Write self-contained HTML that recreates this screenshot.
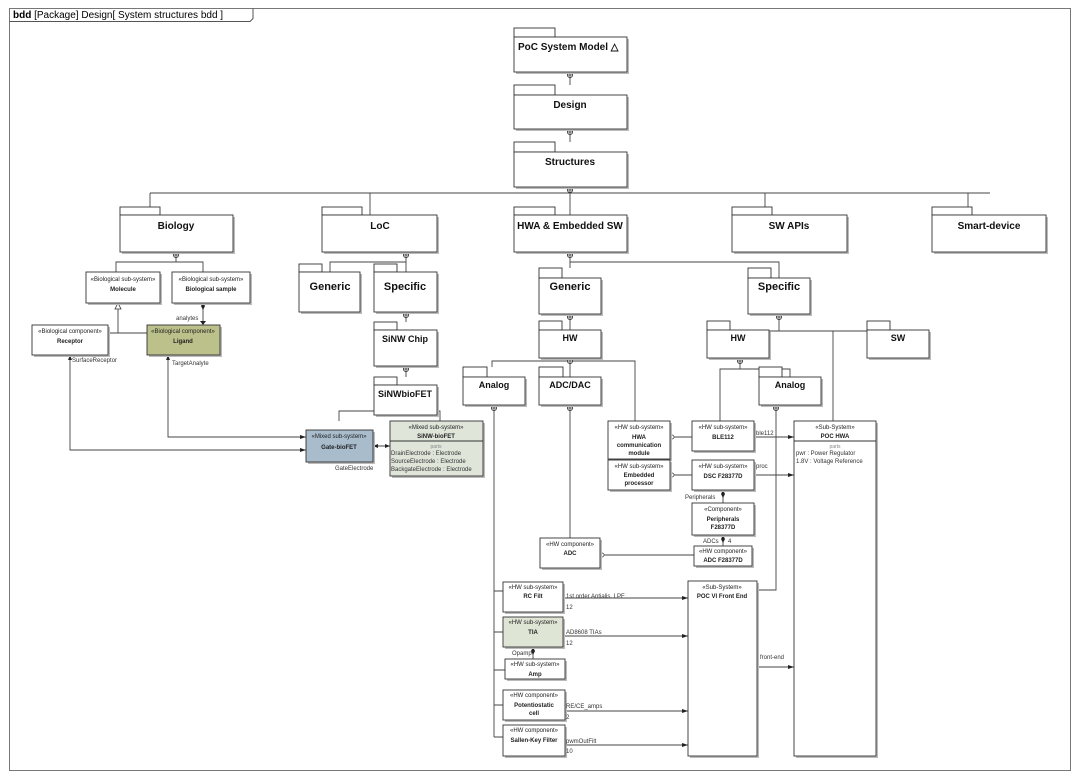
<!DOCTYPE html>
<html><head><meta charset="utf-8"><style>
html,body{margin:0;padding:0;background:#fff;}
svg{display:block;font-family:"Liberation Sans",sans-serif;}
.b{font-weight:bold;}
</style></head><body>
<svg width="1080" height="781" viewBox="0 0 1080 781" xmlns="http://www.w3.org/2000/svg">
<defs>
<g id="cp"><circle cx="0" cy="0" r="2.6" fill="#fff" stroke="#333" stroke-width="0.8"/><path d="M-2.6 0H2.6M0 -2.6V2.6" stroke="#333" stroke-width="0.8"/></g>
</defs>
<rect width="1080" height="781" fill="#fff"/>
<!-- frame -->
<rect x="9.5" y="8.5" width="1061" height="762" fill="none" stroke="#777" stroke-width="1"/>
<path d="M9.5 21.5H250l3-3V8.5" fill="none" stroke="#555"/>
<text x="13" y="18" font-size="10"><tspan class="b">bdd</tspan> [Package] Design[ System structures bdd ]</text>

<g fill="none" stroke="#444" stroke-width="0.9">
<!-- tree lines -->
<path d="M570 72V85M570 129V142M570 187V193M150 193H990M150 193V207M370 193V215M570 193V215M765 193V207M968 193V207"/>
<path d="M176 252V262H116V272M176 262H203V272"/>
<path d="M406 252V262H330V272M406 262V272"/>
<path d="M406 312V322M406 366V377M406 415V411H339V421M406 411H440V421"/>
<path d="M570 252V262H570V268M570 262H779V278"/>
<path d="M570 314V330M570 358V361H492V367M570 361V377M570 361H635V421"/>
<path d="M779 314V331H769M779 331H929M833 331V421"/>
<path d="M740 358V369H720V421M740 369H790V377"/>
<!-- Biology -->
<path d="M203 302V325M107 333H147M118 333V306"/>
<path d="M70 355V450H306M168 355V437H306"/>
<!-- Gate / SiNW -->
<path d="M373 446H390"/>
<!-- HWA left -->
<path d="M494 405V737M494 591H503M494 632H503M494 670H505M494 705H503M494 737H503"/>
<path d="M570 405V538"/>
<path d="M670 437H692M670 475H692M600 555H694"/>
<path d="M723 490V503M723 535V546"/>
<path d="M776 405V590H757"/>
<path d="M754 437H794M754 475H794"/>
<path d="M563 598H688M563 636H688M565 711H688M565 745H688M757 667H794"/>
<path d="M533 647V659"/>
</g>
<!-- composition markers -->
<use href="#cp" x="570" y="75"/><use href="#cp" x="570" y="132"/><use href="#cp" x="570" y="190"/>
<use href="#cp" x="176" y="255"/><use href="#cp" x="406" y="255"/><use href="#cp" x="570" y="255"/>
<use href="#cp" x="406" y="315"/><use href="#cp" x="406" y="369"/><use href="#cp" x="406" y="407"/>
<use href="#cp" x="570" y="317"/><use href="#cp" x="570" y="361"/><use href="#cp" x="779" y="317"/>
<use href="#cp" x="740" y="361"/><use href="#cp" x="494" y="408"/><use href="#cp" x="570" y="408"/><use href="#cp" x="776" y="408"/>
<!-- markers small -->
<g fill="#222">
<path d="M118 303l-3 6h6z" fill="#fff" stroke="#333" stroke-width="0.8"/>
<path d="M203 302l-2 4 2 4 2-4z"/><path d="M200 321l3 4 3-4z"/>
<path d="M306 437l-6-2v4zM306 450l-6-2v4zM390 446l-5-2v4zM373 446l5-2v4z"/>
<path d="M70 355l-2 5h4zM168 355l-2 5h4z"/>
<circle cx="672" cy="437" r="2" fill="#fff" stroke="#333" stroke-width="0.7"/>
<circle cx="672" cy="475" r="2" fill="#fff" stroke="#333" stroke-width="0.7"/>
<circle cx="602" cy="555" r="2" fill="#fff" stroke="#333" stroke-width="0.7"/>
<path d="M794 437l-6-2v4zM794 475l-6-2v4zM688 598l-6-2v4zM688 636l-6-2v4zM688 711l-6-2v4zM688 745l-6-2v4zM794 667l-6-2v4z"/>
<path d="M723 490l-2 4 2 4 2-4zM723 535l-2 4 2 4 2-4zM533 647l-2 4 2 4 2-4z"/>
</g>
<!-- packages -->
<g fill="#fff" stroke="#333" stroke-width="0.9">
<g fill="#bbb" stroke="none">
<rect x="516" y="39" width="113" height="35"/><rect x="516" y="97" width="113" height="34"/><rect x="516" y="154" width="113" height="35"/>
<rect x="122" y="217" width="113" height="37"/><rect x="324" y="217" width="115" height="37"/><rect x="516" y="217" width="113" height="37"/><rect x="734" y="217" width="115" height="37"/><rect x="934" y="217" width="114" height="37"/>
<rect x="301" y="274" width="61" height="40"/><rect x="376" y="274" width="63" height="40"/><rect x="376" y="332" width="63" height="36"/><rect x="376" y="387" width="63" height="30"/>
<rect x="541" y="280" width="62" height="36"/><rect x="750" y="280" width="62" height="36"/><rect x="541" y="332" width="62" height="28"/><rect x="709" y="332" width="62" height="28"/><rect x="869" y="332" width="62" height="28"/>
<rect x="465" y="379" width="62" height="28"/><rect x="541" y="379" width="62" height="28"/><rect x="761" y="379" width="62" height="28"/>
</g>
<rect x="514" y="28" width="41" height="9"/><rect x="514" y="37" width="113" height="35"/>
<rect x="514" y="85" width="41" height="10"/><rect x="514" y="95" width="113" height="34"/>
<rect x="514" y="142" width="41" height="10"/><rect x="514" y="152" width="113" height="35"/>
<rect x="120" y="207" width="40" height="8"/><rect x="120" y="215" width="113" height="37"/>
<rect x="322" y="207" width="40" height="8"/><rect x="322" y="215" width="115" height="37"/>
<rect x="514" y="207" width="41" height="8"/><rect x="514" y="215" width="113" height="37"/>
<rect x="732" y="207" width="40" height="8"/><rect x="732" y="215" width="115" height="37"/>
<rect x="932" y="207" width="40" height="8"/><rect x="932" y="215" width="114" height="37"/>
<rect x="299" y="264" width="23" height="8"/><rect x="299" y="272" width="61" height="40"/>
<rect x="374" y="264" width="23" height="8"/><rect x="374" y="272" width="63" height="40"/>
<rect x="374" y="322" width="23" height="8"/><rect x="374" y="330" width="63" height="36"/>
<rect x="374" y="377" width="23" height="8"/><rect x="374" y="385" width="63" height="30"/>
<rect x="539" y="268" width="23" height="10"/><rect x="539" y="278" width="62" height="36"/>
<rect x="748" y="268" width="23" height="10"/><rect x="748" y="278" width="62" height="36"/>
<rect x="539" y="321" width="23" height="9"/><rect x="539" y="330" width="62" height="28"/>
<rect x="707" y="321" width="23" height="9"/><rect x="707" y="330" width="62" height="28"/>
<rect x="867" y="321" width="23" height="9"/><rect x="867" y="330" width="62" height="28"/>
<rect x="463" y="367" width="24" height="10"/><rect x="463" y="377" width="62" height="28"/>
<rect x="539" y="367" width="24" height="10"/><rect x="539" y="377" width="62" height="28"/>
<rect x="759" y="367" width="23" height="10"/><rect x="759" y="377" width="62" height="28"/>
</g>
<g font-size="10" class="b" text-anchor="middle" fill="#111" font-weight="bold">
<text x="560" y="50" text-anchor="start" x0="0"></text>
<text x="518" y="50" text-anchor="start">PoC System Model  △</text>
<text x="570" y="108">Design</text><text x="570" y="165">Structures</text>
<text x="176" y="229">Biology</text><text x="380" y="229">LoC</text><text x="570" y="229">HWA &amp; Embedded SW</text>
<text x="789" y="229">SW APIs</text><text x="989" y="229">Smart-device</text>
<text x="330" y="290" font-size="11">Generic</text><text x="405" y="290" font-size="11">Specific</text>
<text x="405" y="342" font-size="9">SiNW Chip</text><text x="405" y="397" font-size="9">SiNWbioFET</text>
<text x="570" y="290" font-size="11">Generic</text><text x="779" y="290" font-size="11">Specific</text>
<text x="570" y="341" font-size="9">HW</text><text x="738" y="341" font-size="9">HW</text><text x="898" y="341" font-size="9">SW</text>
<text x="494" y="388" font-size="9">Analog</text><text x="570" y="388" font-size="9">ADC/DAC</text><text x="790" y="388" font-size="9">Analog</text>
</g>
<!-- blocks -->
<g stroke="#333" stroke-width="0.9">
<g fill="#bbb" stroke="none">
<rect x="88" y="274" width="74" height="31"/><rect x="174" y="274" width="78" height="31"/><rect x="34" y="327" width="76" height="30"/><rect x="149" y="327" width="73" height="30"/>
<rect x="308" y="432" width="67" height="32"/><rect x="392" y="423" width="93" height="55"/>
<rect x="610" y="423" width="62" height="38"/><rect x="610" y="462" width="62" height="30"/><rect x="694" y="423" width="62" height="30"/><rect x="694" y="462" width="62" height="30"/><rect x="694" y="505" width="62" height="32"/><rect x="696" y="548" width="58" height="20"/><rect x="542" y="540" width="60" height="30"/>
<rect x="796" y="423" width="82" height="335"/><rect x="690" y="583" width="69" height="175"/>
<rect x="505" y="584" width="60" height="30"/><rect x="505" y="619" width="60" height="30"/><rect x="507" y="661" width="60" height="20"/><rect x="505" y="692" width="62" height="30"/><rect x="505" y="727" width="62" height="31"/>
</g>
<rect x="86" y="272" width="74" height="31" fill="#fff"/><rect x="172" y="272" width="78" height="31" fill="#fff"/>
<rect x="32" y="325" width="76" height="30" fill="#fff"/><rect x="147" y="325" width="73" height="30" fill="#bcc08a"/>
<rect x="306" y="430" width="67" height="32" fill="#a8bccc"/><rect x="390" y="421" width="93" height="55" fill="#e0e5da"/>
<path d="M390 441H483M794 441H876" fill="none"/>
<rect x="608" y="421" width="62" height="38" fill="#fff"/><rect x="608" y="460" width="62" height="30" fill="#fff"/>
<rect x="692" y="421" width="62" height="30" fill="#fff"/><rect x="692" y="460" width="62" height="30" fill="#fff"/>
<rect x="692" y="503" width="62" height="32" fill="#fff"/><rect x="694" y="546" width="58" height="20" fill="#fff"/>
<rect x="540" y="538" width="60" height="30" fill="#fff"/>
<rect x="794" y="421" width="82" height="335" fill="#fff"/><path d="M794 441H876"/>
<rect x="688" y="581" width="69" height="175" fill="#fff"/>
<rect x="503" y="582" width="60" height="30" fill="#fff"/><rect x="503" y="617" width="60" height="30" fill="#dfe5d5"/>
<rect x="505" y="659" width="60" height="20" fill="#fff"/><rect x="503" y="690" width="62" height="30" fill="#fff"/><rect x="503" y="725" width="62" height="31" fill="#fff"/>
</g>
<g font-size="6" text-anchor="middle" fill="#222">
<text x="123" y="281">«Biological sub-system»</text><text x="123" y="291" font-weight="bold">Molecule</text>
<text x="211" y="281">«Biological sub-system»</text><text x="211" y="291" font-weight="bold">Biological sample</text>
<text x="70" y="333">«Biological component»</text><text x="70" y="343" font-weight="bold">Receptor</text>
<text x="183" y="333">«Biological component»</text><text x="183" y="343" font-weight="bold">Ligand</text>
<text x="339" y="438">«Mixed sub-system»</text><text x="339" y="449" font-weight="bold">Gate-bioFET</text>
<text x="436" y="429">«Mixed sub-system»</text><text x="436" y="438" font-weight="bold">SiNW-bioFET</text>
<text x="436" y="448" font-size="5" fill="#888">parts</text>
<text x="639" y="429">«HW sub-system»</text><text x="639" y="439" font-weight="bold">HWA</text><text x="639" y="447" font-weight="bold">communication</text><text x="639" y="455" font-weight="bold">module</text>
<text x="639" y="468">«HW sub-system»</text><text x="639" y="477" font-weight="bold">Embedded</text><text x="639" y="485" font-weight="bold">processor</text>
<text x="723" y="429">«HW sub-system»</text><text x="723" y="439" font-weight="bold">BLE112</text>
<text x="723" y="468">«HW sub-system»</text><text x="723" y="478" font-weight="bold">DSC F28377D</text>
<text x="723" y="511">«Component»</text><text x="723" y="521" font-weight="bold">Peripherals</text><text x="723" y="529" font-weight="bold">F28377D</text>
<text x="723" y="553">«HW component»</text><text x="723" y="562" font-weight="bold">ADC F28377D</text>
<text x="570" y="546">«HW component»</text><text x="570" y="555" font-weight="bold">ADC</text>
<text x="835" y="429">«Sub-System»</text><text x="835" y="438" font-weight="bold">POC HWA</text>
<text x="835" y="448" font-size="5" fill="#888">parts</text>
<text x="722" y="589">«Sub-System»</text><text x="722" y="598" font-weight="bold">POC VI Front End</text>
<text x="533" y="589">«HW sub-system»</text><text x="533" y="598" font-weight="bold">RC Filt</text>
<text x="533" y="624">«HW sub-system»</text><text x="533" y="634" font-weight="bold">TIA</text>
<text x="535" y="666">«HW sub-system»</text><text x="535" y="676" font-weight="bold">Amp</text>
<text x="534" y="697">«HW component»</text><text x="534" y="707" font-weight="bold">Potentiostatic</text><text x="534" y="715" font-weight="bold">cell</text>
<text x="534" y="732">«HW component»</text><text x="534" y="742" font-weight="bold">Sallen-Key Filter</text>
</g>
<g font-size="6" fill="#333">
<text x="391" y="455">DrainElectrode : Electrode</text><text x="391" y="463">SourceElectrode : Electrode</text><text x="391" y="471">BackgateElectrode : Electrode</text>
<text x="796" y="455">pwr : Power Regulator</text><text x="796" y="463">1.8V : Voltage Reference</text>
<text x="176" y="320">analytes</text><text x="72" y="362">SurfaceReceptor</text><text x="172" y="365">TargetAnalyte</text>
<text x="335" y="470">GateElectrode</text>
<text x="756" y="435">ble112</text><text x="756" y="468">proc</text>
<text x="685" y="499">Peripherals</text><text x="703" y="543">ADCs</text><text x="728" y="543">4</text>
<text x="566" y="598">1st order Antialis. LPF</text><text x="566" y="609">12</text>
<text x="566" y="634">AD8608 TIAs</text><text x="566" y="645">12</text>
<text x="512" y="655">Opamp</text>
<text x="566" y="708">RE/CE_amps</text><text x="566" y="719">2</text>
<text x="566" y="743">pwmOutFilt</text><text x="566" y="753">10</text>
<text x="760" y="659">front-end</text>
</g>
</svg>
</body></html>
